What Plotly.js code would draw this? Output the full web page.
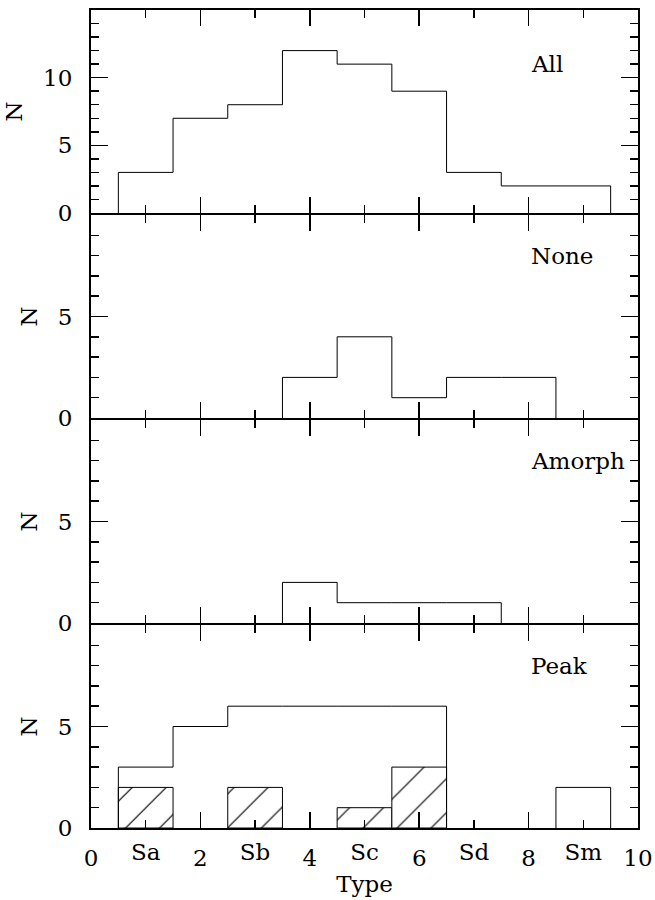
<!DOCTYPE html>
<html>
<head>
<meta charset="utf-8">
<script src="https://cdn.plot.ly/plotly-3.0.1.min.js"></script>
<style>html,body{margin:0;padding:0;background:#fff;}</style>
</head>
<body>
<div id="chart" style="width:655px;height:900px;"></div>
<script>
// Bin centres (morphological type), width 1
const typeCenters = [1, 2, 3, 4, 5, 6, 7, 8, 9];
const countsAll    = [3, 7, 8, 12, 11, 9, 3, 2, 2];
const countsNone   = [0, 0, 0, 2, 4, 1, 2, 2, 0];
const countsAmorph = [0, 0, 0, 2, 1, 1, 1, 0, 0];
const countsPeak   = [3, 5, 6, 6, 6, 6, 0, 0, 2];
const countsPeakHatched = [2, 0, 2, 0, 1, 3, 0, 0, 0];
const panelNames = ['All', 'None', 'Amorph', 'Peak'];
const typeTickVals = [1, 3, 5, 7, 9];
const typeTickText = ['Sa', 'Sb', 'Sc', 'Sd', 'Sm'];
const numTickVals = [0, 2, 4, 6, 8, 10];

const FONT = 'DejaVu Serif';
const binW = 1;

// outline of a histogram, drawn as separate runs of non-empty bins
function stepTrace(counts, xa, ya) {
  const xs = [], ys = [];
  let i = 0;
  while (i < counts.length) {
    if (counts[i] > 0) {
      xs.push(typeCenters[i] - binW / 2); ys.push(0);
      while (i < counts.length && counts[i] > 0) {
        xs.push(typeCenters[i] - binW / 2); ys.push(counts[i]);
        i++;
      }
      xs.push(typeCenters[i - 1] + binW / 2); ys.push(0);
      xs.push(null); ys.push(null);
    } else {
      i++;
    }
  }
  return {
    type: 'scatter', mode: 'lines', x: xs, y: ys, connectgaps: false,
    line: {shape: 'hv', color: '#000', width: 1},
    xaxis: xa, yaxis: ya, hoverinfo: 'skip', showlegend: false
  };
}

const hx = [], hy = [];
countsPeakHatched.forEach((v, i) => { if (v > 0) { hx.push(typeCenters[i]); hy.push(v); } });

const traces = [
  stepTrace(countsAll, 'x', 'y'),
  stepTrace(countsNone, 'x2', 'y2'),
  stepTrace(countsAmorph, 'x3', 'y3'),
  {
    type: 'bar', x: hx, y: hy, width: binW, xaxis: 'x4', yaxis: 'y4',
    marker: {
      color: '#fff',
      line: {color: '#000', width: 1},
      pattern: {shape: '/', fgcolor: '#000', bgcolor: '#fff', size: 24, solidity: 0.05}
    },
    showlegend: false, hoverinfo: 'skip'
  },
  stepTrace(countsPeak, 'x4', 'y4')
];

const tickFont = {family: FONT, size: 23, color: '#000'};

// panel domains in pixels: 4 panels with 2px gaps so neighbouring axis lines coincide
const plotH = 818, gap = 2, panelH = (plotH - 3 * gap) / 4;
const domains = [0, 1, 2, 3].map(k => {
  const top = plotH - k * (panelH + gap);
  return [(top - panelH) / plotH, top / plotH];
});

function xAxis(i, labels) {
  return {
    domain: [0, 1], range: [0, 10], anchor: i === 1 ? 'y' : 'y' + i,
    tickmode: 'array', tickvals: numTickVals,
    ticks: 'inside', ticklen: 16, tickwidth: 1.5, tickcolor: '#000',
    minor: {tickmode: 'array', tickvals: typeTickVals, ticks: 'inside', ticklen: 8, tickwidth: 1.5, tickcolor: '#000', showgrid: false},
    showline: true, linewidth: 2, linecolor: '#000', mirror: 'ticks',
    showgrid: false, zeroline: false, showticklabels: labels,
    tickfont: tickFont, ticklabelstandoff: 8
  };
}

function yAxis(i, top, vals) {
  const minorVals = [];
  for (let v = 1; v < top; v++) if (v % 5 !== 0) minorVals.push(v);
  return {
    domain: domains[i - 1], range: [0, top], anchor: i === 1 ? 'x' : 'x' + i,
    tickmode: 'array', tickvals: vals,
    ticks: 'inside', ticklen: 17, tickwidth: 1.5, tickcolor: '#000',
    minor: {tickmode: 'array', tickvals: minorVals, ticks: 'inside', ticklen: 8, tickwidth: 1.5, tickcolor: '#000', showgrid: false},
    showline: true, linewidth: 2, linecolor: '#000', mirror: 'ticks',
    showgrid: false, zeroline: false,
    tickfont: tickFont, ticklabelstandoff: 12,
    title: {text: 'N', font: {family: FONT, size: 23, color: '#000'}, standoff: 14}
  };
}

const xa4 = xAxis(4, true);
xa4.title = {text: 'Type', font: {family: FONT, size: 23, color: '#000'}, standoff: 6};

const layout = {
  width: 655, height: 900,
  margin: {l: 91, r: 17, t: 10, b: 72},
  paper_bgcolor: '#fff', plot_bgcolor: '#fff',
  showlegend: false,
  bargap: 0,
  xaxis: xAxis(1, false), xaxis2: xAxis(2, false), xaxis3: xAxis(3, false), xaxis4: xa4,
  xaxis5: {
    overlaying: 'x4', anchor: 'y4', side: 'bottom', range: [0, 10],
    tickmode: 'array', tickvals: typeTickVals, ticktext: typeTickText,
    ticks: '', showline: false, showgrid: false, zeroline: false,
    tickfont: tickFont, ticklabelstandoff: 8
  },
  yaxis: yAxis(1, 15, [0, 5, 10]),
  yaxis2: yAxis(2, 10, [0, 5]),
  yaxis3: yAxis(3, 10, [0, 5]),
  yaxis4: yAxis(4, 10, [0, 5]),
  annotations: panelNames.map((name, i) => ({
    text: name, xref: i === 0 ? 'x' : 'x' + (i + 1), yref: i === 0 ? 'y' : 'y' + (i + 1),
    x: 8.0, y: i === 0 ? 11 : 8, xanchor: 'left', yanchor: 'middle', showarrow: false,
    font: {family: FONT, size: 23, color: '#000'}
  }))
};

// invisible trace so the Sa..Sm label axis is drawn
traces.push({type: 'scatter', mode: 'markers', x: [0], y: [0], xaxis: 'x5', yaxis: 'y4',
  marker: {opacity: 0}, hoverinfo: 'skip', showlegend: false});

Plotly.newPlot('chart', traces, layout, {displayModeBar: false, staticPlot: true});
</script>
</body>
</html>
